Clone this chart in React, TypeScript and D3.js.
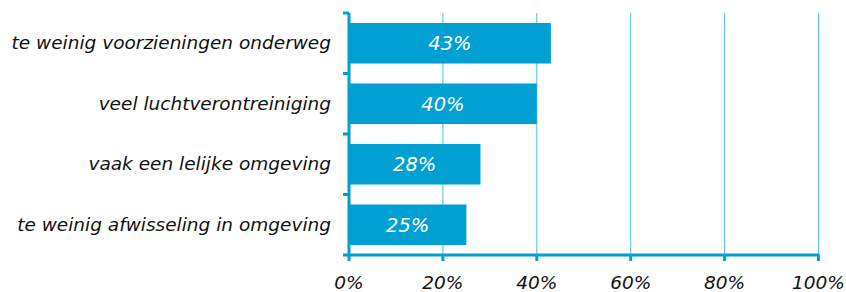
import React, { useEffect, useRef } from 'react';
import * as d3 from 'd3';

const categories = [
  'te weinig voorzieningen onderweg',
  'veel luchtverontreiniging',
  'vaak een lelijke omgeving',
  'te weinig afwisseling in omgeving',
];
const values = [43, 40, 28, 25];
const xTicks = [0, 20, 40, 60, 80, 100];

export default function App() {
  const svgRef = useRef<SVGSVGElement | null>(null);

  useEffect(() => {
    if (!svgRef.current) return;
    const svg = d3.select(svgRef.current);
    svg.selectAll('*').remove();

    const width = 846;
    const height = 292;
    const margin = { top: 13, right: 28, bottom: 37, left: 349 };
    const blue = '#00a0d2';
    const font = '"DejaVu Sans", Verdana, sans-serif';

    const data = categories.map((c, i) => ({ label: c, value: values[i] }));

    const x = d3.scaleLinear()
      .domain([0, 100])
      .range([margin.left, width - margin.right + 0.5]);

    const y = d3.scaleBand()
      .domain(categories)
      .range([margin.top, height - margin.bottom])
      .paddingInner(0.33)
      .paddingOuter(0.165);

    // grid lines
    svg.append('g')
      .selectAll('line')
      .data(xTicks.slice(1))
      .join('line')
      .attr('x1', d => x(d))
      .attr('x2', d => x(d))
      .attr('y1', margin.top)
      .attr('y2', height - margin.bottom)
      .attr('stroke', '#4cc0e6')
      .attr('stroke-width', 1);

    // bars
    svg.append('g')
      .selectAll('rect')
      .data(data)
      .join('rect')
      .attr('x', x(0))
      .attr('y', d => y(d.label)!)
      .attr('width', d => x(d.value) - x(0))
      .attr('height', y.bandwidth())
      .attr('fill', blue);

    // value labels
    svg.append('g')
      .selectAll('text')
      .data(data)
      .join('text')
      .attr('x', d => (x(0) + x(d.value)) / 2)
      .attr('y', d => y(d.label)! + y.bandwidth() / 2 + 7)
      .attr('text-anchor', 'middle')
      .attr('fill', '#ffffff')
      .attr('font-family', font)
      .attr('font-style', 'italic')
      .attr('font-size', '19.5px')
      .text(d => `${d.value}%`);

    // y axis
    const y0 = margin.top;
    const y1 = height - margin.bottom;
    const step = y.step();
    const yTickPos = d3.range(categories.length + 1).map(i => y0 + i * step);
    const axis = svg.append('g');
    axis.append('line')
      .attr('x1', x(0)).attr('x2', x(0))
      .attr('y1', y0).attr('y2', y1 + 1)
      .attr('stroke', blue).attr('stroke-width', 3);
    axis.selectAll('.ytick')
      .data(yTickPos)
      .join('line')
      .attr('class', 'ytick')
      .attr('x1', x(0) - 6).attr('x2', x(0))
      .attr('y1', d => d).attr('y2', d => d)
      .attr('stroke', blue).attr('stroke-width', 3);

    // x axis
    axis.append('line')
      .attr('x1', x(0) - 1).attr('x2', x(100) + 1)
      .attr('y1', y1).attr('y2', y1)
      .attr('stroke', blue).attr('stroke-width', 3);
    axis.selectAll('.xtick')
      .data(xTicks)
      .join('line')
      .attr('class', 'xtick')
      .attr('x1', d => x(d)).attr('x2', d => x(d))
      .attr('y1', y1).attr('y2', y1 + 6)
      .attr('stroke', blue).attr('stroke-width', 3);

    axis.selectAll('.xlabel')
      .data(xTicks)
      .join('text')
      .attr('class', 'xlabel')
      .attr('x', d => x(d))
      .attr('y', 289)
      .attr('text-anchor', 'middle')
      .attr('fill', '#111')
      .attr('font-family', font)
      .attr('font-style', 'italic')
      .attr('font-size', '18.5px')
      .text(d => `${d}%`);

    // category labels
    axis.selectAll('.ylabel')
      .data(data)
      .join('text')
      .attr('class', 'ylabel')
      .attr('x', 331)
      .attr('y', d => y(d.label)! + y.bandwidth() / 2 + 6)
      .attr('text-anchor', 'end')
      .attr('fill', '#111')
      .attr('font-family', font)
      .attr('font-style', 'italic')
      .attr('font-size', '18.5px')
      .text(d => d.label);
  }, []);

  return (
    <svg
      ref={svgRef}
      width={846}
      height={292}
      viewBox="0 0 846 292"
      style={{ position: 'absolute', left: 0, top: 0, background: '#fff' }}
    />
  );
}
